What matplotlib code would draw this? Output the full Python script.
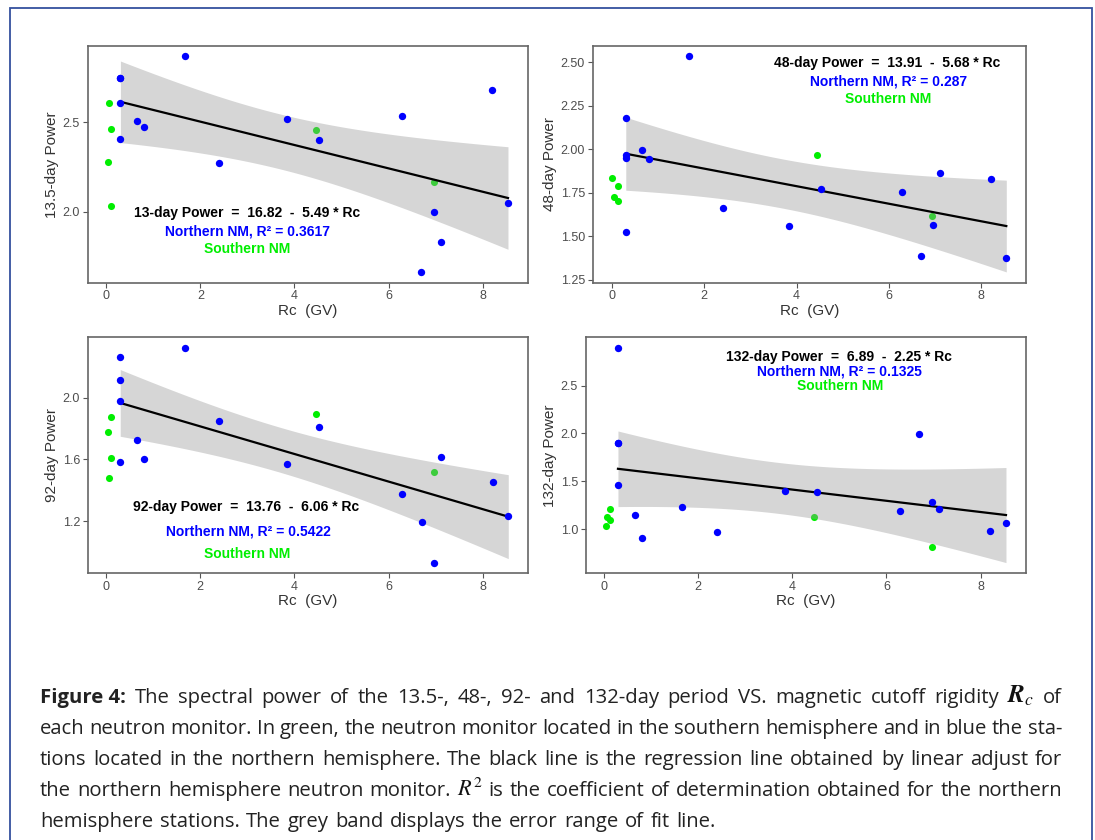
import numpy as np
import matplotlib
matplotlib.use("Agg")
import matplotlib.pyplot as plt
import matplotlib.transforms as mtransforms
from matplotlib.patches import Rectangle

W, H = 1095, 840

# cutoff rigidity of the northern stations (same for all panels)
rc_north = [0.30, 0.30, 0.30, 0.30, 0.66, 0.81, 1.67, 2.40, 3.84, 4.52,
            6.29, 6.70, 6.96, 7.11, 8.21, 8.54]

# spectral power, northern stations
p13_north = [2.748, 2.748, 2.606, 2.409, 2.506, 2.472, 2.869, 2.272, 2.522, 2.403,
             2.534, 1.664, 2.000, 1.830, 2.681, 2.050]
p48_north = [2.177, 1.967, 1.950, 1.525, 1.995, 1.942, 2.532, 1.663, 1.560, 1.768,
             1.756, 1.384, 1.563, 1.862, 1.827, 1.372]
p92_north = [2.262, 2.116, 1.978, 1.581, 1.725, 1.600, 2.320, 1.849, 1.568, 1.811,
             1.378, 1.196, 0.933, 1.613, 1.452, 1.232]
p132_north = [2.891, 1.904, 1.900, 1.461, 1.153, 0.914, 1.229, 0.976, 1.399, 1.388,
              1.187, 1.998, 1.284, 1.208, 0.986, 1.069]

# southern stations (x read per panel)
rc13_south = [0.05, 0.11, 0.03, 0.11, 4.45, 6.96]
p13_south = [2.606, 2.461, 2.278, 2.034, 2.455, 2.168]
rc48_south = [0.01, 0.04, 0.13, 0.13, 4.44, 6.94]
p48_south = [1.833, 1.724, 1.787, 1.701, 1.967, 1.613]
rc92_south = [0.035, 0.11, 0.11, 0.06, 4.45, 6.96]
p92_south = [1.776, 1.875, 1.606, 1.482, 1.895, 1.516]
rc132_south = [0.04, 0.06, 0.13, 0.13, 4.46, 6.96]
p132_south = [1.038, 1.132, 1.101, 1.218, 1.125, 0.820]

ylabels = ["13.5-day Power", "48-day Power", "92-day Power", "132-day Power"]
equations = ["13-day Power  =  16.82  -  5.49 * Rc",
             "48-day Power  =  13.91  -  5.68 * Rc",
             "92-day Power  =  13.76  -  6.06 * Rc",
             "132-day Power  =  6.89  -  2.25 * Rc"]
r2_labels = ["Northern NM, R² = 0.3617", "Northern NM, R² = 0.287",
             "Northern NM, R² = 0.5422", "Northern NM, R² = 0.1325"]
yticks = [[2.0, 2.5], [1.25, 1.50, 1.75, 2.00, 2.25, 2.50],
          [1.2, 1.6, 2.0], [1.0, 1.5, 2.0, 2.5]]
ytick_fmt = ["%.1f", "%.2f", "%.1f", "%.1f"]

T_975 = 2.1448  # t quantile, df = 14

# axes boxes in pixels: left, top, right, bottom
boxes = [(87.7, 45.7, 528, 282.7), (592.7, 45.7, 1026, 282.7),
         (87.7, 337.3, 528.3, 573.3), (585.7, 337.3, 1026, 573.3)]
# label centres in pixels (eq, northern, southern)
label_pos = [[(246.7, 213.3), (247.7, 231.7), (247, 249)],
             [(887.5, 63.3), (889, 81.7), (888, 99)],
             [(246, 506.7), (248, 531), (247.5, 553.7)],
             [(839, 357.3), (839.5, 371.7), (839.8, 386)]]

plt.rcParams['font.family'] = ['Liberation Sans', 'DejaVu Sans']

fig = plt.figure(figsize=(W / 100, H / 100), dpi=100)
px = mtransforms.IdentityTransform()

# outer frame
fig.patches.append(Rectangle((10, -20), 1082, H - 7.5 + 20, transform=px,
                             fill=False, edgecolor='#34509e', linewidth=1.3))

north = [p13_north, p48_north, p92_north, p132_north]
south = [(rc13_south, p13_south), (rc48_south, p48_south),
         (rc92_south, p92_south), (rc132_south, p132_south)]

blue = '#0000ff'
green = '#00ee00'

for i in range(4):
    l, t, r, b = boxes[i]
    ax = fig.add_axes([l / W, 1 - b / H, (r - l) / W, (b - t) / H])
    x = np.array(rc_north)
    y = np.array(north[i])
    xs, ys = south[i]

    # linear fit + 95% confidence band, northern stations only
    slope, icpt = np.polyfit(x, y, 1)
    n = len(x)
    resid = y - (icpt + slope * x)
    s = np.sqrt(np.sum(resid ** 2) / (n - 2))
    sxx = np.sum((x - x.mean()) ** 2)
    xf = np.linspace(x.min(), x.max(), 80)
    yf = icpt + slope * xf
    se = s * np.sqrt(1 / n + (xf - x.mean()) ** 2 / sxx)
    lo, hi = yf - T_975 * se, yf + T_975 * se

    ax.scatter(xs, ys, s=26, color=green, zorder=2, linewidths=0)
    ax.fill_between(xf, lo, hi, color='#999999', alpha=0.4, linewidth=0, zorder=3)
    ax.plot(xf, yf, color='black', lw=1.6, zorder=4)
    ax.scatter(x, y, s=28, color=blue, zorder=5, linewidths=0)

    allx = np.concatenate([x, xs])
    ally = np.concatenate([y, ys, lo, hi])
    rx = allx.max() - allx.min()
    ry = ally.max() - ally.min()
    ax.set_xlim(allx.min() - 0.05 * rx, allx.max() + 0.05 * rx)
    ax.set_ylim(ally.min() - 0.05 * ry, ally.max() + 0.05 * ry)

    ax.set_xticks([0, 2, 4, 6, 8])
    ax.set_yticks(yticks[i])
    ax.set_yticklabels([ytick_fmt[i] % v for v in yticks[i]])
    ax.tick_params(colors='#555555', labelcolor='#4d4d4d', labelsize=9,
                   length=3.5, width=0.8, pad=2)
    for sp in ax.spines.values():
        sp.set_color('#666666')
        sp.set_linewidth(1.2)
    ax.set_xlabel("Rc  (GV)", fontsize=11, color='#333333', labelpad=1)
    ax.set_ylabel(ylabels[i], fontsize=11, color='#333333', labelpad=3)

    texts = [equations[i], r2_labels[i], "Southern NM"]
    colors = ['black', blue, green]
    for (cx, cy), txt, c in zip(label_pos[i], texts, colors):
        fig.text(cx, H - cy, txt, transform=px, ha='center', va='center',
                 fontsize=10, weight='bold', color=c)

# caption, fully justified
renderer = fig.canvas.get_renderer()
cap_kw = dict(family=['Open Sans', 'DejaVu Sans'], fontsize=14.6, color='#222222')
bold_kw = dict(cap_kw, weight='bold')
rc_kw = dict(fontsize=18, color='#111111', math_fontfamily='stix')
r2_kw = dict(fontsize=16, color='#111111', math_fontfamily='stix')

def words(s):
    return [(w, cap_kw) for w in s.split()]

cap_lines = [
    [("Figure 4:", bold_kw)]
    + words("The spectral power of the 13.5-, 48-, 92- and 132-day period VS. magnetic cutoff rigidity")
    + [(r"$\mathbfit{R}_{c}$", rc_kw), ("of", cap_kw)],
    words("each neutron monitor. In green, the neutron monitor located in the southern hemisphere and in blue the sta-"),
    words("tions located in the northern hemisphere. The black line is the regression line obtained by linear adjust for"),
    words("the northern hemisphere neutron monitor.") + [(r"$\mathit{R}^{2}$", r2_kw)]
    + words("is the coefficient of determination obtained for the northern"),
    words("hemisphere stations. The grey band displays the error range of fit line."),
]
baselines = [703, 734, 765, 796, 827]
x0, x1 = 40, 1062

gaps = []
for k, toks in enumerate(cap_lines):
    objs = []
    for s_, kw in toks:
        objs.append(fig.text(0, H - baselines[k], s_, transform=px, ha='left',
                             va='baseline', **kw))
    widths = [o.get_window_extent(renderer).width for o in objs]
    if k < len(cap_lines) - 1:
        gap = (x1 - x0 - sum(widths)) / (len(objs) - 1)
        gaps.append(gap)
    else:
        gap = float(np.mean(gaps))
    xpos = x0
    for o, w in zip(objs, widths):
        o.set_x(xpos)
        xpos += w + gap

fig.savefig("out.png", dpi=100)
